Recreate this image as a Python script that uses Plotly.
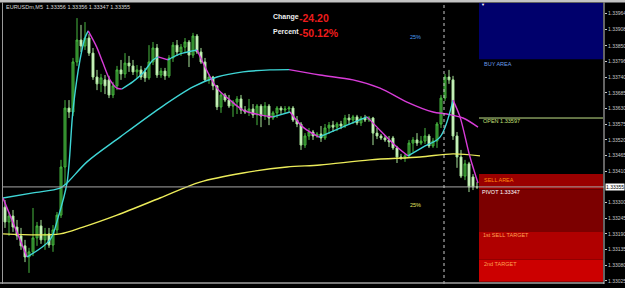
import plotly.graph_objects as go

# ---------------- data ----------------
symbol_text = "EURUSDm,M5  1.33356 1.33356 1.33347 1.33355"
bars = list(range(119))
opens = [1.33284, 1.33232, 1.33253, 1.33214, 1.33183, 1.33148, 1.33109, 1.33127, 1.33176, 1.33218,
         1.33169, 1.33190, 1.33151, 1.33204, 1.33256, 1.33425, 1.33632, 1.33618, 1.33794, 1.33871,
         1.33850, 1.33878, 1.33825, 1.33741, 1.33717, 1.33731, 1.33731, 1.33678, 1.33710, 1.33766,
         1.33752, 1.33790, 1.33780, 1.33759, 1.33766, 1.33759, 1.33738, 1.33794, 1.33843, 1.33748,
         1.33762, 1.33745, 1.33808, 1.33853, 1.33829, 1.33846, 1.33864, 1.33818, 1.33885, 1.33829,
         1.33794, 1.33731, 1.33741, 1.33710, 1.33636, 1.33678, 1.33660, 1.33639, 1.33653, 1.33664,
         1.33625, 1.33618, 1.33629, 1.33608, 1.33639, 1.33604, 1.33639, 1.33597, 1.33615, 1.33632,
         1.33625, 1.33629, 1.33632, 1.33590, 1.33576, 1.33502, 1.33534, 1.33548, 1.33534, 1.33541,
         1.33527, 1.33562, 1.33572, 1.33565, 1.33576, 1.33569, 1.33597, 1.33590, 1.33601, 1.33580,
         1.33597, 1.33590, 1.33597, 1.33544, 1.33534, 1.33527, 1.33520, 1.33527, 1.33492, 1.33460,
         1.33457, 1.33464, 1.33509, 1.33520, 1.33509, 1.33516, 1.33534, 1.33499, 1.33516, 1.33576,
         1.33667, 1.33741, 1.33731, 1.33534, 1.33460, 1.33393, 1.33436, 1.33390, 1.33355]
highs = [1.33309, 1.33267, 1.33274, 1.33239, 1.33211, 1.33169, 1.33141, 1.33281, 1.33232, 1.33239,
         1.33211, 1.33211, 1.33221, 1.33267, 1.33450, 1.33660, 1.33660, 1.33808, 1.33948, 1.33924,
         1.33934, 1.33892, 1.33843, 1.33766, 1.33752, 1.33748, 1.33745, 1.33724, 1.33780, 1.33801,
         1.33825, 1.33815, 1.33801, 1.33783, 1.33780, 1.33773, 1.33853, 1.33864, 1.33857, 1.33773,
         1.33773, 1.33818, 1.33864, 1.33871, 1.33857, 1.33878, 1.33871, 1.33896, 1.33892, 1.33843,
         1.33808, 1.33752, 1.33745, 1.33713, 1.33688, 1.33685, 1.33678, 1.33660, 1.33674, 1.33678,
         1.33639, 1.33664, 1.33646, 1.33646, 1.33646, 1.33653, 1.33646, 1.33622, 1.33639, 1.33639,
         1.33639, 1.33639, 1.33639, 1.33604, 1.33583, 1.33544, 1.33562, 1.33555, 1.33548, 1.33569,
         1.33576, 1.33583, 1.33587, 1.33583, 1.33587, 1.33608, 1.33611, 1.33608, 1.33608, 1.33604,
         1.33608, 1.33604, 1.33601, 1.33562, 1.33541, 1.33537, 1.33534, 1.33534, 1.33499, 1.33471,
         1.33471, 1.33520, 1.33530, 1.33544, 1.33534, 1.33562, 1.33541, 1.33527, 1.33583, 1.33678,
         1.33752, 1.33766, 1.33745, 1.33548, 1.33485, 1.33450, 1.33443, 1.33400, 1.33372]
lows = [1.33211, 1.33183, 1.33197, 1.33169, 1.33134, 1.33091, 1.33053, 1.33112, 1.33148, 1.33155,
        1.33134, 1.33141, 1.33127, 1.33190, 1.33246, 1.33362, 1.33597, 1.33604, 1.33780, 1.33829,
        1.33836, 1.33815, 1.33731, 1.33695, 1.33688, 1.33681, 1.33667, 1.33667, 1.33695, 1.33731,
        1.33738, 1.33759, 1.33748, 1.33738, 1.33731, 1.33724, 1.33731, 1.33783, 1.33738, 1.33738,
        1.33731, 1.33738, 1.33794, 1.33815, 1.33815, 1.33829, 1.33776, 1.33808, 1.33822, 1.33787,
        1.33724, 1.33717, 1.33695, 1.33625, 1.33615, 1.33653, 1.33632, 1.33601, 1.33611, 1.33611,
        1.33611, 1.33604, 1.33597, 1.33572, 1.33565, 1.33590, 1.33572, 1.33590, 1.33597, 1.33611,
        1.33615, 1.33618, 1.33583, 1.33565, 1.33485, 1.33492, 1.33520, 1.33520, 1.33527, 1.33513,
        1.33520, 1.33541, 1.33548, 1.33551, 1.33558, 1.33562, 1.33576, 1.33576, 1.33572, 1.33569,
        1.33583, 1.33583, 1.33502, 1.33523, 1.33520, 1.33513, 1.33495, 1.33485, 1.33439, 1.33450,
        1.33443, 1.33457, 1.33478, 1.33499, 1.33502, 1.33506, 1.33492, 1.33492, 1.33492, 1.33562,
        1.33657, 1.33717, 1.33520, 1.33422, 1.33386, 1.33379, 1.33337, 1.33344, 1.33348]
closes = [1.33232, 1.33253, 1.33214, 1.33183, 1.33148, 1.33109, 1.33127, 1.33176, 1.33218, 1.33169,
          1.33190, 1.33151, 1.33204, 1.33256, 1.33425, 1.33632, 1.33618, 1.33794, 1.33871, 1.33850,
          1.33878, 1.33825, 1.33741, 1.33717, 1.33738, 1.33710, 1.33678, 1.33710, 1.33766, 1.33752,
          1.33790, 1.33780, 1.33759, 1.33766, 1.33741, 1.33738, 1.33794, 1.33843, 1.33748, 1.33762,
          1.33745, 1.33808, 1.33853, 1.33829, 1.33846, 1.33864, 1.33818, 1.33885, 1.33829, 1.33794,
          1.33731, 1.33741, 1.33710, 1.33636, 1.33678, 1.33660, 1.33639, 1.33653, 1.33664, 1.33625,
          1.33618, 1.33629, 1.33608, 1.33639, 1.33604, 1.33639, 1.33597, 1.33615, 1.33632, 1.33625,
          1.33629, 1.33632, 1.33590, 1.33576, 1.33502, 1.33534, 1.33548, 1.33534, 1.33541, 1.33527,
          1.33562, 1.33572, 1.33565, 1.33576, 1.33569, 1.33597, 1.33590, 1.33601, 1.33580, 1.33597,
          1.33590, 1.33597, 1.33544, 1.33534, 1.33527, 1.33520, 1.33513, 1.33492, 1.33460, 1.33457,
          1.33464, 1.33509, 1.33520, 1.33509, 1.33516, 1.33534, 1.33499, 1.33516, 1.33576, 1.33667,
          1.33741, 1.33731, 1.33534, 1.33460, 1.33393, 1.33436, 1.33355, 1.33355, 1.33355]

fast_x = [-0.5, 5.5, 11.25, 13.3, 15.5, 17, 18.75, 20, 20.8, 22.9, 24.5, 26.25, 28, 29.2, 32, 34.5,
          37, 38.3, 40.75, 43.75, 48, 53, 56.25, 59.5, 63.75, 67, 71.25, 74.5, 78.5, 85.5, 90.5, 93,
          98, 100.75, 104.5, 108.75, 112, 113.75, 116.25, 118.25]
fast_y = [1.33316, 1.33109, 1.33169, 1.33249, 1.33369, 1.33625, 1.33801, 1.33878, 1.33903, 1.33847,
          1.33790, 1.33731, 1.33702, 1.33699, 1.33725, 1.33755, 1.33801, 1.33812, 1.33801, 1.33822,
          1.33836, 1.33702, 1.33660, 1.33625, 1.33608, 1.33601, 1.33618, 1.33565, 1.33530, 1.33572,
          1.33601, 1.33565, 1.33495, 1.33464, 1.33495, 1.33530, 1.33660, 1.33601, 1.33460, 1.33369]
med_x = [-0.5, 7, 13.75, 15.5, 20.5, 28.75, 38.75, 47, 53, 59.5, 66.25, 71, 78.75, 87, 93.75,
         100.5, 107, 110.5, 114.5, 118.25]
med_y = [1.33316, 1.33334, 1.33351, 1.33369, 1.33443, 1.33530, 1.33632, 1.33706, 1.33741, 1.33759,
         1.33766, 1.33767, 1.33748, 1.33731, 1.33702, 1.33653, 1.33618, 1.33611, 1.33597, 1.33565]
slow_x = [-0.5, 13.75, 19.5, 28, 38.75, 48.75, 59.5, 70.5, 78.75, 91.25, 103.75, 112, 118.75]
slow_y = [1.33190, 1.33190, 1.33214, 1.33256, 1.33316, 1.33372, 1.33404, 1.33425, 1.33432,
          1.33450, 1.33460, 1.33471, 1.33464]

price_ticks = [1.33964, 1.33908, 1.33850, 1.33796, 1.33740, 1.33685, 1.33630, 1.33575, 1.33520,
               1.33465, 1.33410, 1.33300, 1.33245, 1.33190, 1.33135, 1.33080, 1.33025]
current_price = 1.33355
buy_area_low = 1.33803
open_price = 1.33597
sell_area_high = 1.33400
pivot_price = 1.33347
target1_price = 1.33197
target2_price = 1.33100
zone_floor = 1.33022
separator_bar = 109.75
change_value = "-24.20"
percent_value = "-50.12%"

# ---------------- layout helpers (pixel -> paper) ----------------
W, H = 625, 288
L, R, T, B = 3, 21, 3, 4
PW, PH = W - L - R, H - T - B
def px(x):
    return (x - L) / PW
def py(y):
    return (H - B - y) / PH

FONT = "Liberation Sans"
CYAN = "#3fd6d6"
MAGENTA = "#d83cd8"
YELLOW = "#ecec5a"

fig = go.Figure()

fig.add_trace(go.Candlestick(
    x=bars, open=opens, high=highs, low=lows, close=closes,
    increasing=dict(line=dict(color="#48b840", width=1), fillcolor="#1f6a1c"),
    decreasing=dict(line=dict(color="#a8e49a", width=1), fillcolor="#e6ffdc"),
    whiskerwidth=0, showlegend=False, hoverinfo="skip"))

def slope_colored(xs, ys, width=1.4):
    n = len(xs)
    start = 0
    for k in range(1, n):
        up_prev = ys[k] >= ys[k - 1]
        end_run = (k == n - 1) or ((ys[k + 1] >= ys[k]) != up_prev)
        if end_run:
            seg = range(start, k + 1)
            fig.add_trace(go.Scatter(
                x=[xs[j] for j in seg], y=[ys[j] for j in seg], mode="lines",
                line=dict(color=CYAN if up_prev else MAGENTA, width=width,
                          shape="spline", smoothing=0.9),
                showlegend=False, hoverinfo="skip"))
            start = k

fig.add_trace(go.Scatter(x=slow_x, y=slow_y, mode="lines",
                         line=dict(color=YELLOW, width=1.4, shape="spline", smoothing=0.9),
                         showlegend=False, hoverinfo="skip"))
slope_colored(med_x, med_y)
slope_colored(fast_x, fast_y)

shapes = []
zx0, zx1 = px(479), px(603)
# zones
zones = [
    (buy_area_low, 1.34010, "#00006c"),
    (pivot_price, sell_area_high, "#9a0000"),
    (target1_price, pivot_price, "#7c0000"),
    (target2_price, target1_price, "#b00000"),
    (zone_floor, target2_price, "#cc0000"),
]
for y0, y1, c in zones:
    shapes.append(dict(type="rect", xref="paper", yref="y", x0=zx0, x1=zx1, y0=y0, y1=y1,
                       fillcolor=c, line=dict(width=0), layer="below"))
# open line
shapes.append(dict(type="line", xref="paper", yref="y", x0=zx0, x1=zx1, y0=open_price,
                   y1=open_price, line=dict(color="#c4e48a", width=1)))
# current price line
shapes.append(dict(type="line", xref="paper", yref="y", x0=0, x1=1, y0=current_price,
                   y1=current_price, line=dict(color="#a8a8a8", width=1)))
# separator
shapes.append(dict(type="line", xref="x", yref="paper", x0=separator_bar, x1=separator_bar,
                   y0=0, y1=1, line=dict(color="#c8c8c8", width=1, dash="dot")))
# frame
shapes.append(dict(type="rect", xref="paper", yref="paper", x0=px(0), x1=px(625), y0=py(2.5),
                   y1=py(0), fillcolor="#c4c4c4", line=dict(width=0)))
shapes.append(dict(type="line", xref="paper", yref="paper", x0=px(2.5), x1=px(2.5), y0=py(284),
                   y1=py(2.5), line=dict(color="#9a9a9a", width=1)))
shapes.append(dict(type="line", xref="paper", yref="paper", x0=px(0), x1=px(604), y0=py(283),
                   y1=py(283), line=dict(color="#a0a0a0", width=1.5)))
shapes.append(dict(type="line", xref="paper", yref="paper", x0=px(604), x1=px(604), y0=py(284),
                   y1=py(2.5), line=dict(color="#c8c8c8", width=1)))

ann = []
def text(x, y, s, color, size, bold=False, xanchor="left", bg=None):
    d = dict(xref="paper", yref="paper", x=px(x), y=py(y), text=("<b>%s</b>" % s) if bold else s,
             showarrow=False, xanchor=xanchor, yanchor="middle",
             font=dict(family=FONT, size=size, color=color))
    if bg:
        d["bgcolor"] = bg
        d["borderpad"] = 0
    ann.append(d)

text(4, 7, symbol_text, "#d8d8d8", 5.5)
text(271, 16.5, "Change", "#f0f0f0", 7, bold=True)
text(297, 17.5, change_value, "#ee1c1c", 10.5, bold=True)
text(271, 31, "Percent", "#f0f0f0", 7, bold=True)
text(297, 32.5, percent_value, "#ee1c1c", 10.5, bold=True)
text(416, 36.5, "25%", "#4a9cf0", 5.5, xanchor="center")
text(416, 205, "25%", "#e0e060", 5.5, xanchor="center")
text(482, 63.5, "BUY AREA", "#6a9ce8", 5.5)
text(481, 120.5, "OPEN 1.33597", "#c4e07a", 5.5)
text(482, 179.5, "SELL AREA", "#ff8a10", 5.5)
text(480, 192, "PIVOT 1.33347", "#ffffff", 5.5)
text(481, 235, "1st SELL TARGET", "#ffa050", 5.5)
text(482, 263.5, "2nd TARGET", "#ffa050", 5.5)
text(483, 4.5, "▼", "#ffffff", 4, xanchor="center")
text(605, 186.8, "1.33355", "#000000", 5, bg="#ffffff")

fig.update_layout(
    width=W, height=H, margin=dict(l=L, r=R, t=T, b=B, autoexpand=False),
    paper_bgcolor="#000000", plot_bgcolor="#000000",
    shapes=shapes, annotations=ann, showlegend=False,
    xaxis=dict(range=[-0.5, 149.75], showgrid=False, zeroline=False, showticklabels=False,
               showline=False, ticks="", rangeslider=dict(visible=False), fixedrange=True),
    yaxis=dict(range=[1.33014, 1.34001], side="right", showgrid=False, zeroline=False,
               tickvals=price_ticks, ticktext=["%.5f" % v for v in price_ticks],
               tickfont=dict(family=FONT, size=5, color="#c8c8c8"), ticks="outside",
               ticklen=2, tickcolor="#c8c8c8", showline=False, fixedrange=True),
)

fig.write_html("out.html")
